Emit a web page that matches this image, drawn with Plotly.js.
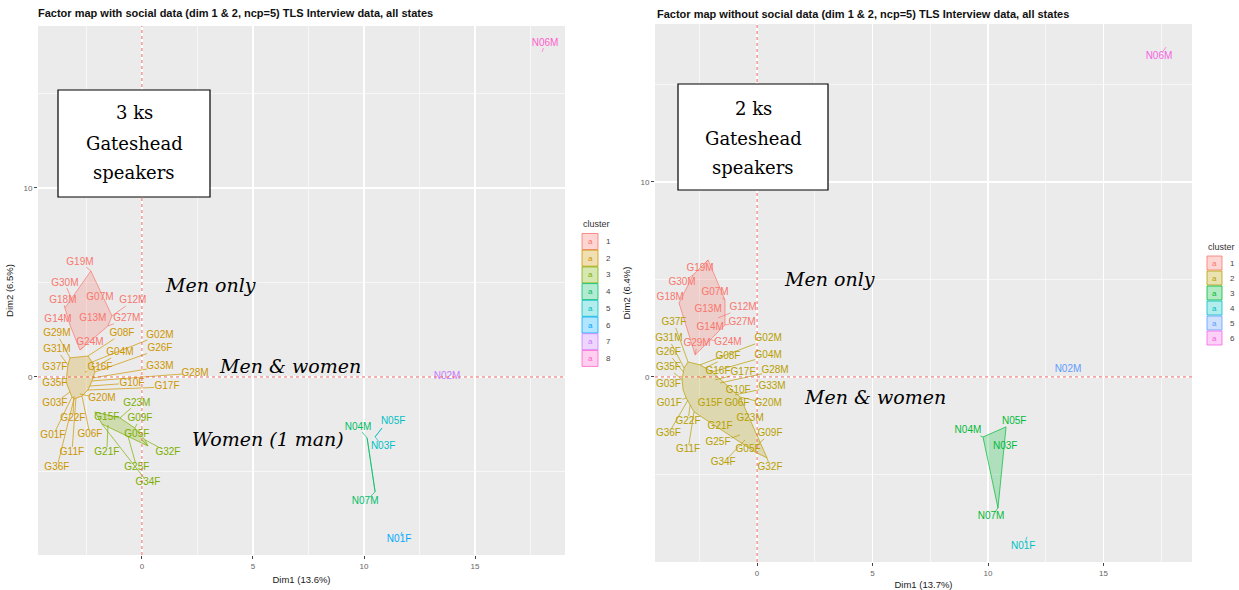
<!DOCTYPE html>
<html><head><meta charset="utf-8">
<script src="https://cdn.plot.ly/plotly-3.0.1.min.js"></script>
<style>html,body{margin:0;padding:0;background:#fff;}#chart{width:1239px;height:590px;}</style>
</head><body><div id="chart"></div>
<script>
// ---------- LEFT PANEL DATA (with social data) ----------
const leftNames = ["G19M","G30M","G18M","G07M","G12M","G14M","G13M","G27M","G24M",
 "G29M","G08F","G02M","G31M","G04M","G26F","G37F","G16F","G33M","G28M","G35F","G10F","G17F","G20M","G03F","G22F","G01F","G06F","G11F","G36F",
 "G23M","G15F","G09F","G05F","G21F","G32F","G25F","G34F",
 "N04M","N07M","N05F","N03F","N01F","N02M","N06M"];
const leftCluster = [1,1,1,1,1,1,1,1,1,
 2,2,2,2,2,2,2,2,2,2,2,2,2,2,2,2,2,2,2,2,
 3,3,3,3,3,3,3,3,
 4,4,5,5,6,7,8];
const leftDim1 = [-2.30,-3.15,-3.47,-2.03,-1.35,-3.24,-2.43,-1.53,-2.79,
 -3.24,-2.43,-2.25,-3.33,-2.16,-2.12,-3.38,-2.57,-2.21,-2.25,-3.42,-2.34,-2.43,-2.79,-3.24,-3.06,-3.15,-2.70,-2.97,-3.06,
 -0.99,-2.12,-0.32,0.27,-1.53,0.14,-0.63,-1.80,
 10.14,10.50,10.81,10.50,11.71,13.70,18.02];
const leftDim2 = [5.61,4.07,3.65,3.92,3.23,2.75,2.91,2.70,1.43,
 1.01,1.11,0.79,0.63,0.48,0.26,0.11,0.26,-0.05,-0.21,-0.26,-0.48,-0.69,-0.90,-0.79,-1.01,-1.06,-1.01,-1.11,-1.16,
 -2.17,-1.85,-2.70,-3.65,-2.54,-3.33,-3.12,-2.49,
 -3.23,-6.08,-2.70,-3.17,-8.20,0.08,17.20];
// repelled label positions (data units)
const leftLabelDim1 = [-2.79,-3.47,-3.56,-1.89,-0.41,-3.78,-2.21,-0.68,-2.34,
 -3.83,-0.90,0.81,-3.83,-0.99,0.81,-3.92,-1.89,0.81,2.39,-3.92,-0.45,1.13,-1.80,-3.92,-3.11,-4.01,-2.34,-3.15,-3.83,
 -0.23,-1.58,-0.09,-0.23,-1.58,1.17,-0.23,0.27,
 9.73,10.05,11.31,10.86,11.58,13.74,18.15];
const leftLabelDim2 = [6.08,4.97,4.07,4.18,4.02,3.02,3.07,3.07,1.85,
 2.28,2.28,2.22,1.43,1.27,1.48,0.48,0.48,0.53,0.21,-0.32,-0.32,-0.53,-1.16,-1.38,-2.22,-3.12,-3.07,-3.97,-4.81,
 -1.38,-2.17,-2.22,-3.07,-3.97,-3.97,-4.81,-5.61,
 -2.65,-6.61,-2.38,-3.70,-8.62,0.05,17.67];
const leftLevels = ["1","2","3","4","5","6","7","8"];
const leftColors = ["#F8766D","#CD9600","#7CAE00","#00BE67","#00BFC4","#00A9FF","#C77CFF","#FF61CC"];

// ---------- RIGHT PANEL DATA (without social data) ----------
const rightNames = ["G19M","G30M","G18M","G07M","G13M","G12M","G14M","G27M","G29M","G24M",
 "G37F","G31M","G02M","G26F","G08F","G04M","G35F","G16F","G17F","G28M","G03F","G10F","G33M","G01F","G15F","G06F","G20M","G22F","G21F","G23M","G36F","G09F","G11F","G25F","G05F","G34F","G32F",
 "N04M","N05F","N03F","N07M","N01F","N02M","N06M"];
const rightCluster = [1,1,1,1,1,1,1,1,1,1,
 2,2,2,2,2,2,2,2,2,2,2,2,2,2,2,2,2,2,2,2,2,2,2,2,2,2,2,
 3,3,3,3,4,5,6];
const rightDim1 = [-2.12,-2.77,-3.38,-1.39,-2.25,-1.69,-2.47,-1.39,-2.68,-2.03,
 -2.99,-3.16,-2.47,-3.20,-2.25,-1.95,-3.25,-2.47,-1.82,-1.60,-3.20,-1.39,-0.95,-3.07,-2.25,-1.39,-0.74,-2.90,-1.60,-0.52,-2.99,0.00,-2.73,-0.74,-0.09,-0.52,0.43,
 9.78,10.78,10.65,10.43,11.69,13.46,17.71];
const rightDim2 = [6.00,5.23,3.79,3.95,3.18,3.03,2.41,2.67,1.13,1.90,
 0.77,0.46,0.62,0.26,0.46,0.26,-0.15,-0.05,-0.15,-0.31,-0.67,-0.67,-0.92,-1.08,-1.18,-1.44,-1.03,-1.44,-2.21,-1.95,-1.18,-3.49,-1.79,-2.97,-3.85,-3.23,-4.15,
 -3.08,-2.56,-3.59,-6.72,-8.20,0.36,16.92];
const rightLabelDim1 = [-2.47,-3.25,-3.76,-1.82,-2.12,-0.61,-2.03,-0.65,-2.60,-1.26,
 -3.60,-3.82,0.48,-3.84,-1.26,0.48,-3.84,-1.69,-0.61,0.78,-3.84,-0.82,0.65,-3.80,-2.03,-0.87,0.48,-2.99,-1.60,-0.30,-3.84,0.56,-2.99,-1.69,-0.39,-1.47,0.56,
 9.13,11.13,10.74,10.13,11.52,13.46,17.40];
const rightLabelDim2 = [5.54,4.82,4.05,4.31,3.44,3.54,2.56,2.77,1.69,1.79,
 2.77,1.95,1.95,1.23,1.03,1.08,0.46,0.26,0.21,0.31,-0.41,-0.67,-0.51,-1.38,-1.38,-1.38,-1.38,-2.26,-2.56,-2.15,-2.92,-2.92,-3.74,-3.38,-3.74,-4.41,-4.62,
 -2.77,-2.26,-3.59,-7.18,-8.72,0.36,16.41];
const rightLevels = ["1","2","3","4","5","6"];
const rightColors = ["#F8766D","#B79F00","#00BA38","#00BFC4","#619CFF","#F564E3"];

// ---------- texts ----------
const leftTitle = "Factor map with social data (dim 1 & 2, ncp=5) TLS Interview data, all states";
const rightTitle = "Factor map without social data (dim 1 & 2, ncp=5) TLS Interview data, all states";
const leftXTitle = "Dim1 (13.6%)", leftYTitle = "Dim2 (6.5%)";
const rightXTitle = "Dim1 (13.7%)", rightYTitle = "Dim2 (6.4%)";
const xTicks = [0,5,10,15], yTicks = [0,10];

// ---------- layout geometry (pixels) ----------
const W = 1239, H = 590;
const LG = {x0:38, x1:565, y0:26, y1:555, xr:[-4.68,19.05], yr:[-9.42,18.57], xa:'x', ya:'y'};
const RG = {x0:655, x1:1192, y0:24, y1:562, xr:[-4.42,18.83], yr:[-9.49,18.1], xa:'x2', ya:'y2'};

function rgba(hex, a){
  const n = parseInt(hex.slice(1),16);
  return `rgba(${(n>>16)&255},${(n>>8)&255},${n&255},${a})`;
}
function hull(pts){
  pts = pts.slice().sort((a,b)=>a[0]-b[0]||a[1]-b[1]);
  if (pts.length < 3) return pts;
  const cross=(o,a,b)=>(a[0]-o[0])*(b[1]-o[1])-(a[1]-o[1])*(b[0]-o[0]);
  const lo=[], up=[];
  for (const p of pts){ while(lo.length>=2 && cross(lo[lo.length-2],lo[lo.length-1],p)<=0) lo.pop(); lo.push(p); }
  for (let i=pts.length-1;i>=0;i--){ const p=pts[i]; while(up.length>=2 && cross(up[up.length-2],up[up.length-1],p)<=0) up.pop(); up.push(p); }
  up.pop(); lo.pop();
  return lo.concat(up);
}

function panelTraces(G, names, cl, dx, dy, lx, ly, levels, colors){
  const sx = (G.x1-G.x0)/(G.xr[1]-G.xr[0]);
  const sy = (G.y1-G.y0)/(G.yr[1]-G.yr[0]);
  const hulls=[], segs=[], texts=[];
  levels.forEach((lev,k)=>{
    const c = k+1, col = colors[k];
    const idx = cl.map((v,i)=>v===c?i:-1).filter(i=>i>=0);
    const h = hull(idx.map(i=>[dx[i],dy[i]]));
    if (h.length >= 2){
      const hx = h.map(p=>p[0]).concat([h[0][0]]);
      const hy = h.map(p=>p[1]).concat([h[0][1]]);
      hulls.push({type:'scatter', mode:'lines', x:hx, y:hy, xaxis:G.xa, yaxis:G.ya,
        fill: h.length>=3 ? 'toself':'none', fillcolor: rgba(col,0.25),
        line:{color:col, width:0.7}, hoverinfo:'skip', showlegend:false});
    }
    const sxs=[], sys=[];
    idx.forEach(i=>{
      const ddx = (lx[i]-dx[i])*sx, ddy = (ly[i]-dy[i])*sy;
      const hw = 13, hh = 5;
      if (Math.abs(ddx) < hw+2 && Math.abs(ddy) < hh+2) return;
      const s = Math.min(Math.abs(ddx)>0? hw/Math.abs(ddx):1e9, Math.abs(ddy)>0? hh/Math.abs(ddy):1e9);
      const ex = lx[i] - (lx[i]-dx[i])*s, ey = ly[i] - (ly[i]-dy[i])*s;
      sxs.push(dx[i], ex, null); sys.push(dy[i], ey, null);
    });
    if (sxs.length) segs.push({type:'scatter', mode:'lines', x:sxs, y:sys, xaxis:G.xa, yaxis:G.ya,
      line:{color:col, width:0.7}, hoverinfo:'skip', showlegend:false});
    texts.push({type:'scatter', mode:'text', x:idx.map(i=>lx[i]), y:idx.map(i=>ly[i]), text:idx.map(i=>names[i]),
      xaxis:G.xa, yaxis:G.ya, textposition:'middle center', cliponaxis:false,
      textfont:{family:'Liberation Sans, Arial, sans-serif', size:10, color:col}, hoverinfo:'text', showlegend:false});
  });
  return hulls.concat(segs, texts);
}

const traces = panelTraces(LG, leftNames, leftCluster, leftDim1, leftDim2, leftLabelDim1, leftLabelDim2, leftLevels, leftColors)
  .concat(panelTraces(RG, rightNames, rightCluster, rightDim1, rightDim2, rightLabelDim1, rightLabelDim2, rightLevels, rightColors));

function axis(G, isX, ticks, minor, title, anchor, standoff){
  const d = isX ? [G.x0/W, G.x1/W] : [1-G.y1/H, 1-G.y0/H];
  return {domain:d, range: isX?G.xr:G.yr, anchor:anchor, tickmode:'array', tickvals:ticks, ticktext:ticks.map(String),
    ticks:'outside', ticklen:3, tickwidth:1, tickcolor:'#444', tickfont:{family:'Liberation Sans, Arial, sans-serif', size:8, color:'#666'},
    showgrid:true, gridcolor:'#ffffff', gridwidth:1.2, zeroline:false, showline:false, automargin:false, fixedrange:true,
    minor:{tickmode:'array', tickvals:minor, showgrid:true, gridcolor:'#ffffff', gridwidth:0.6, ticks:''},
    title:{text:title, font:{family:'Liberation Sans, Arial, sans-serif', size:9.5, color:'#222'}, standoff:standoff}};
}

const shapes = [];
const annotations = [];
[[LG,'x','y'],[RG,'x2','y2']].forEach(([G,xa,ya])=>{
  shapes.push({type:'line', xref:xa, yref:ya+' domain', x0:0, x1:0, y0:0, y1:1, line:{color:'rgba(230,70,70,0.85)', width:1, dash:'3px,3px'}, layer:'above'});
  shapes.push({type:'line', xref:xa+' domain', yref:ya, x0:0, x1:1, y0:0, y1:0, line:{color:'rgba(230,70,70,0.85)', width:1, dash:'3px,3px'}, layer:'above'});
});

// text boxes
function box(x0,y0,x1,y1,lines,ys){
  shapes.push({type:'rect', xref:'paper', yref:'paper', x0:x0/W, x1:x1/W, y0:1-y1/H, y1:1-y0/H, fillcolor:'#ffffff', line:{color:'#000', width:1.2}, layer:'above'});
  lines.forEach((t,i)=>annotations.push({xref:'paper', yref:'paper', x:(x0+x1)/2/W, y:1-ys[i]/H, text:t, showarrow:false,
    xanchor:'center', yanchor:'middle', font:{family:'DejaVu Serif, serif', size:18, color:'#000'}}));
}
box(58,90,210,197,["3 ks","Gateshead","speakers"],[112,143,173]);
box(678,84,828,190,["2 ks","Gateshead","speakers"],[108,138,167]);

function note(t,x,y){
  annotations.push({xref:'paper', yref:'paper', x:x/W, y:1-y/H, text:t, showarrow:false, xanchor:'center', yanchor:'middle',
    font:{family:'DejaVu Serif, serif', size:19, color:'#000', style:'italic'}});
}
note("Men only",210,285); note("Men &amp; women",290,366); note("Women (1 man)",268,439);
note("Men only",829,279); note("Men &amp; women",875,397);

// right title
annotations.push({xref:'paper', yref:'paper', x:655/W, y:1-14/H, xanchor:'left', yanchor:'middle', showarrow:false, text:rightTitle,
  font:{family:'Liberation Sans, Arial, sans-serif', size:11, color:'#111', weight:'bold'}});

// manual legends
function legend(levels, colors, tx, ty, kx, ky0, pitch, kw, kh){
  annotations.push({xref:'paper', yref:'paper', x:tx/W, y:1-ty/H, xanchor:'left', yanchor:'middle', showarrow:false, text:'cluster',
    font:{family:'Liberation Sans, Arial, sans-serif', size:9, color:'#333'}});
  levels.forEach((lev,i)=>{
    const cy = ky0 + i*pitch;
    shapes.push({type:'rect', xref:'paper', yref:'paper', x0:kx/W, x1:(kx+kw)/W, y0:1-(cy+kh/2)/H, y1:1-(cy-kh/2)/H,
      fillcolor:rgba(colors[i],0.3), line:{color:colors[i], width:0.8}});
    annotations.push({xref:'paper', yref:'paper', x:(kx+kw/2)/W, y:1-cy/H, xanchor:'center', yanchor:'middle', showarrow:false, text:'a',
      font:{family:'Liberation Sans, Arial, sans-serif', size:8, color:colors[i]}});
    annotations.push({xref:'paper', yref:'paper', x:(kx+kw+6)/W, y:1-cy/H, xanchor:'left', yanchor:'middle', showarrow:false, text:lev,
      font:{family:'Liberation Sans, Arial, sans-serif', size:8, color:'#444'}});
  });
}
legend(leftLevels, leftColors, 581, 224, 582, 241.5, 16.7, 16, 16);
legend(rightLevels, rightColors, 1206, 247, 1207, 263, 15, 15, 14);

const layout = {
  width:W, height:H, autosize:false, margin:{l:0,r:0,t:0,b:0}, paper_bgcolor:'#fff', plot_bgcolor:'#EBEBEB',
  showlegend:false,
  title:{text:leftTitle, x:38/W, xref:'paper', xanchor:'left', y:1-13/H, yref:'container', yanchor:'middle',
    font:{family:'Liberation Sans, Arial, sans-serif', size:11, color:'#111', weight:'bold'}},
  xaxis: axis(LG,true,xTicks,[-2.5,2.5,7.5,12.5,17.5],leftXTitle,'y',6),
  yaxis: axis(LG,false,yTicks,[-5,5,15],leftYTitle,'x',8),
  xaxis2: axis(RG,true,xTicks,[-2.5,2.5,7.5,12.5,17.5],rightXTitle,'y2',6),
  yaxis2: axis(RG,false,yTicks,[-5,5,15],rightYTitle,'x2',8),
  shapes:shapes, annotations:annotations
};
Plotly.newPlot('chart', traces, layout, {displayModeBar:false, staticPlot:true});
</script></body></html>
